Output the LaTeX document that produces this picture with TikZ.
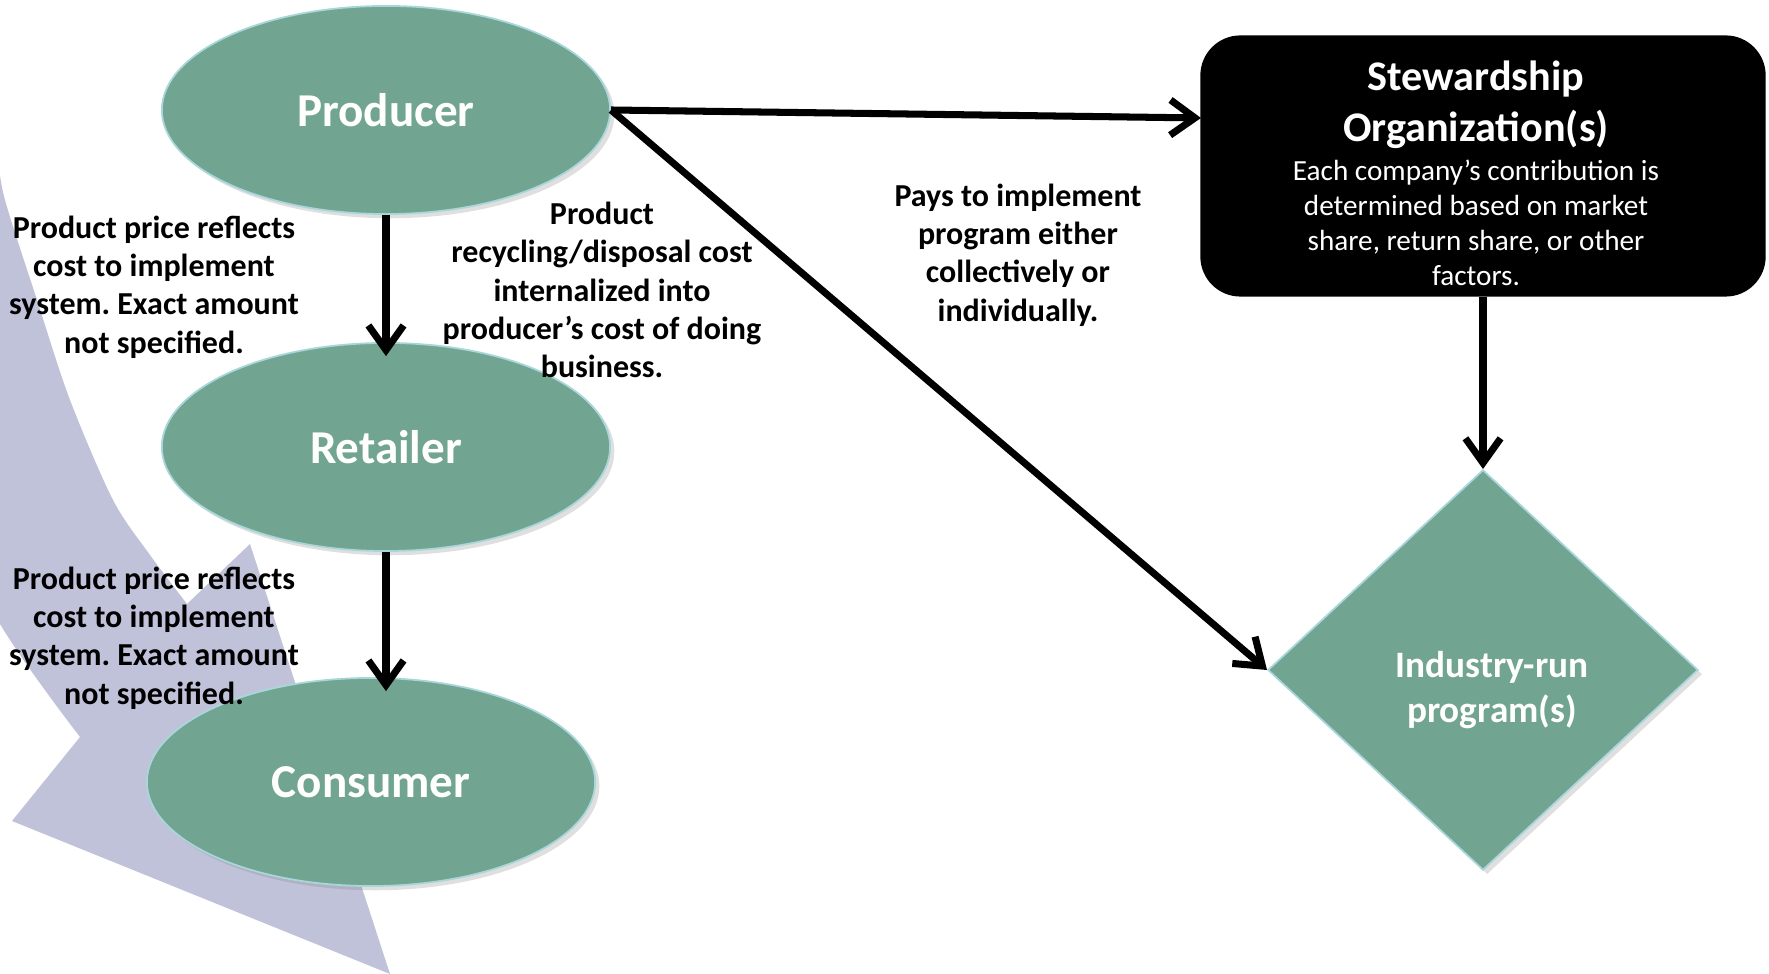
\documentclass[tikz,border=0pt]{standalone}
\usepackage{fontspec}
\setmainfont{Carlito}
\frenchspacing
\usetikzlibrary{arrows.meta,shapes.geometric,shadows}

\definecolor{actorgreen}{HTML}{71A591}
\definecolor{rimblue}{HTML}{A9D6DA}
\definecolor{bandgrey}{HTML}{C0C2DA}

\begin{document}
\begin{tikzpicture}[x=0.01cm,y=-0.01cm,
	actor/.style={ellipse,fill=actorgreen,draw=rimblue,line width=0.5pt,minimum width=4.48cm,minimum height=2.08cm,text=white,font=\bfseries\fontsize{13.4}{16}\selectfont,drop shadow={opacity=0.25,shadow xshift=1.2pt,shadow yshift=-1.2pt}},
	prog/.style={diamond,fill=actorgreen,draw=rimblue,line width=0.5pt,minimum width=4.3cm,minimum height=4.0cm,drop shadow={opacity=0.25,shadow xshift=1.2pt,shadow yshift=-1.2pt}},
	progtext/.style={text=white,align=center,font=\bfseries\fontsize{10.6}{12.8}\selectfont},
	stewbox/.style={rectangle,rounded corners=0.4cm,fill=black,minimum width=5.65cm,minimum height=2.61cm},
	stewhead/.style={text=white,align=center,font=\bfseries\fontsize{12}{14.4}\selectfont},
	stewtext/.style={text=white,align=center,font=\fontsize{8.3}{9.9}\selectfont},
	note/.style={align=center,font=\bfseries\fontsize{9.1}{10.9}\selectfont},
	flow/.style={line width=2pt,-{Straight Barb[length=7pt,width=10pt]}}]
		\useasboundingbox (0,0) rectangle (1769,974);
		% background arrow
		\begin{scope}
			\clip (0,0) rectangle (1769,974);
			\fill[bandgrey] plot[smooth] coordinates {(-20,80) (-4,150) (5,200) (37,300) (70,400) (113,500) (150,555) (187,604)}
				-- (250,544) -- (390,974) -- (12,821)
				-- plot[smooth] coordinates {(80,737) (0,624) (-90,450) (-150,250) (-180,80)} -- cycle;
		\end{scope}
		\node[actor] (prod) at (386,110) {Producer};
		\node[actor] (ret) at (386,447) {Retailer};
		\node[actor] (cons) at (371,782) {Consumer};
		\node[stewbox] (stew) at (1483,166) {};
		\node[stewhead] (stewtitle) at (1476,105) {Stewardship\\Organization(s)};
		\node[stewtext] (stewbody) at (1476,223) {Each company’s contribution is\\determined based on market\\share, return share, or other\\factors.};
		\node[prog] (prog) at (1483,670) {};
		\node[progtext] (progname) at (1492,690) {Industry-run\\program(s)};
		\coordinate (stewin) at (1201,118);
		\draw[flow,shorten >=-4pt] (prod.south) -- (ret.north);
		\draw[flow,shorten >=-4pt] (ret.south) -- (ret.south |- cons.north);
		\draw[flow] (prod.east) -- (stewin);
		\draw[flow] (prod.east) -- (prog.west);
		\draw[flow] (stew.south) -- (prog.north);
		\node[note] (pricea) at (154,287) {Product price reflects\\cost to implement\\system. Exact amount\\not specified.};
		\node[note] (priceb) at (154,638) {Product price reflects\\cost to implement\\system. Exact amount\\not specified.};
		\node[note] (internal) at (602,290) {Product\\recycling/disposal cost\\internalized into\\producer’s cost of doing\\business.};
		\node[note] (pays) at (1018,255) {Pays to implement\\program either\\collectively or\\individually.};
	\end{tikzpicture}
\end{document}
